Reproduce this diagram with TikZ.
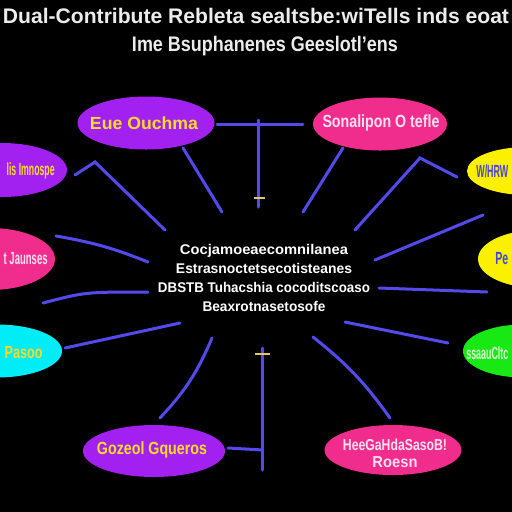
\documentclass[tikz,border=0pt]{standalone}
\usepackage{fontspec}
\setmainfont{Liberation Sans}
\usepackage{graphicx}
\usepackage{tikz}
\usetikzlibrary{shapes.geometric, positioning}

\definecolor{nodepurple}{RGB}{162,32,240}
\definecolor{nodepink}{RGB}{240,44,140}
\definecolor{nodecyan}{RGB}{0,236,246}
\definecolor{nodeyellow}{RGB}{250,240,0}
\definecolor{nodegreen}{RGB}{24,232,20}
\definecolor{linkblue}{RGB}{84,74,236}
\definecolor{textyellow}{RGB}{246,220,40}
\definecolor{textpink}{RGB}{255,225,240}
\definecolor{textblue}{RGB}{70,70,210}
\definecolor{textgreen}{RGB}{220,255,210}
\definecolor{tickyellow}{RGB}{230,200,90}

\newlength{\pxu}
\setlength{\pxu}{0.02cm}
\newcommand{\fitto}[2]{\resizebox{#1\pxu}{\height}{#2}}

\tikzset{
	blob/.style={ellipse, inner sep=0pt},
	link/.style={draw=linkblue, line width=3\pxu, line cap=round},
	tickmark/.style={draw=tickyellow, line width=2\pxu},
	lbl/.style={inner sep=0pt, font=\bfseries\fontsize{10}{12}\selectfont},
	heading/.style={inner sep=0pt, text={rgb,255:red,236;green,236;blue,236}, font=\bfseries\fontsize{12}{14}\selectfont},
}

\begin{document}
\begin{tikzpicture}[x=0.02cm, y=-0.02cm]

\fill [black] (0,0) rectangle (512,512);
\clip (0,0) rectangle (512,512);

% title
\node [heading] (head1) at (256,16) {\fitto{506}{Dual-Contribute Rebleta sealtsbe:wiTells inds eoat}};
\node [heading] (head2) at (265,46) {\fitto{266}{Ime Bsuphanenes Geeslotl'ens}};

% ellipses
\node [blob, fill=nodepurple, minimum width=137\pxu, minimum height=53\pxu] (outcome) at (146,123) {};
\node [blob, fill=nodepink, minimum width=134\pxu, minimum height=53\pxu] (solution) at (380,124) {};
\node [blob, fill=nodepurple, minimum width=130\pxu, minimum height=54\pxu] (impact) at (2,170) {};
\node [blob, fill=nodepink, minimum width=130\pxu, minimum height=62\pxu] (issues) at (-10,259) {};
\node [blob, fill=nodecyan, minimum width=130\pxu, minimum height=53\pxu] (pass) at (-3,351) {};
\node [blob, fill=nodeyellow, minimum width=120\pxu, minimum height=48\pxu] (work) at (527,171) {};
\node [blob, fill=nodeyellow, minimum width=120\pxu, minimum height=58\pxu] (perf) at (538,259) {};
\node [blob, fill=nodegreen, minimum width=120\pxu, minimum height=53\pxu] (success) at (523,351) {};
\node [blob, fill=nodepurple, minimum width=142\pxu, minimum height=52\pxu] (goals) at (154,451) {};
\node [blob, fill=nodepink, minimum width=137\pxu, minimum height=50\pxu] (growth) at (393,450) {};

% ellipse texts
\node [lbl, text=textyellow] (outcome-t) at (144,123) {\fitto{108}{Eue Ouchma}};
\node [lbl, text=textpink] (solution-t) at (381,123) {\fitto{117}{Sonalipon O tefle}};
\node [lbl, text=textyellow, anchor=east] (impact-t) at (55,171) {\fitto{48}{lis Imnospe}};
\node [lbl, text=textpink, anchor=east] (issues-t) at (48,259) {\fitto{44}{t Jaunses}};
\node [lbl, text=textyellow, anchor=east] (pass-t) at (43,353) {\fitto{38}{Pasoo}};
\node [lbl, text=textblue, anchor=west] (work-t) at (476,171) {\fitto{32}{W/HRW}};
\node [lbl, text=textblue, anchor=west] (perf-t) at (495,259) {\fitto{13}{Pe}};
\node [lbl, text=textgreen, anchor=west] (success-t) at (466,353) {\fitto{42}{ssaauCltc}};
\node [lbl, text=textyellow] (goals-t) at (152,450) {\fitto{110}{Gozeol Gqueros}};
\node [lbl, text=textpink, align=center, font=\bfseries\fontsize{9}{9.5}\selectfont] (growth-t) at (395,453) {\fitto{104}{HeeGaHdaSasoB!}\\ \fitto{45}{Roesn}};

% centre text
\node [inner sep=0pt, align=center, text=white, font=\bfseries\fontsize{8}{10.8}\selectfont] (core) at (264,278) {
	\fitto{168}{Cocjamoeaecomnilanea} \\
	\fitto{176}{Estrasnoctetsecotisteanes} \\
	\fitto{212}{DBSTB Tuhacshia cocoditscoaso} \\
	\fitto{123}{Beaxrotnasetosofe}
};

% connector ends
\coordinate (a1) at (217,124);
\coordinate (a2) at (303,124);
\coordinate (b1) at (259,120);
\coordinate (b2) at (259,207);
\coordinate (c1) at (183,148);
\coordinate (c2) at (222,212);
\coordinate (d1) at (343,148);
\coordinate (d2) at (303,212);
\coordinate (e1) at (75,175);
\coordinate (e2) at (95,162);
\coordinate (e3) at (165,230);
\coordinate (f1) at (56,236);
\coordinate (f2) at (148,262);
\coordinate (g1) at (43,303);
\coordinate (g2) at (148,292);
\coordinate (h1) at (65,348);
\coordinate (h2) at (180,323);
\coordinate (i1) at (212,338);
\coordinate (i2) at (160,418);
\coordinate (j1) at (263,348);
\coordinate (j2) at (263,470);
\coordinate (k1) at (228,448);
\coordinate (k2) at (263,450);
\coordinate (l1) at (313,337);
\coordinate (l2) at (390,418);
\coordinate (m1) at (345,322);
\coordinate (m2) at (448,343);
\coordinate (n1) at (355,230);
\coordinate (n2) at (420,158);
\coordinate (n3) at (457,177);
\coordinate (o1) at (375,260);
\coordinate (o2) at (483,215);
\coordinate (p1) at (379,288);
\coordinate (p2) at (487,292);

% connectors
\path [link] (a1) -- (a2);
\path [link] (b1) -- (b2);
\path [link] (c1) -- (c2);
\path [link] (d1) -- (d2);
\path [link] (e1) -- (e2) -- (e3);
\path [link] (f1) to [bend left=6] (f2);
\path [link] (g1) .. controls (85,292) .. (g2);
\path [link] (h1) -- (h2);
\path [link] (i1) to [bend left=10] (i2);
\path [link] (j1) -- (j2);
\path [link] (k1) -- (k2);
\path [link] (l1) to [bend left=8] (l2);
\path [link] (m1) -- (m2);
\path [link] (n1) -- (n2) -- (n3);
\path [link] (o1) -- (o2);
\path [link] (p1) -- (p2);

% small marks
\path [tickmark] (b2) ++(-5,-9) -- ++(11,0);
\path [tickmark] (j1) ++(-8,6) -- ++(15,0);

\end{tikzpicture}
\end{document}
